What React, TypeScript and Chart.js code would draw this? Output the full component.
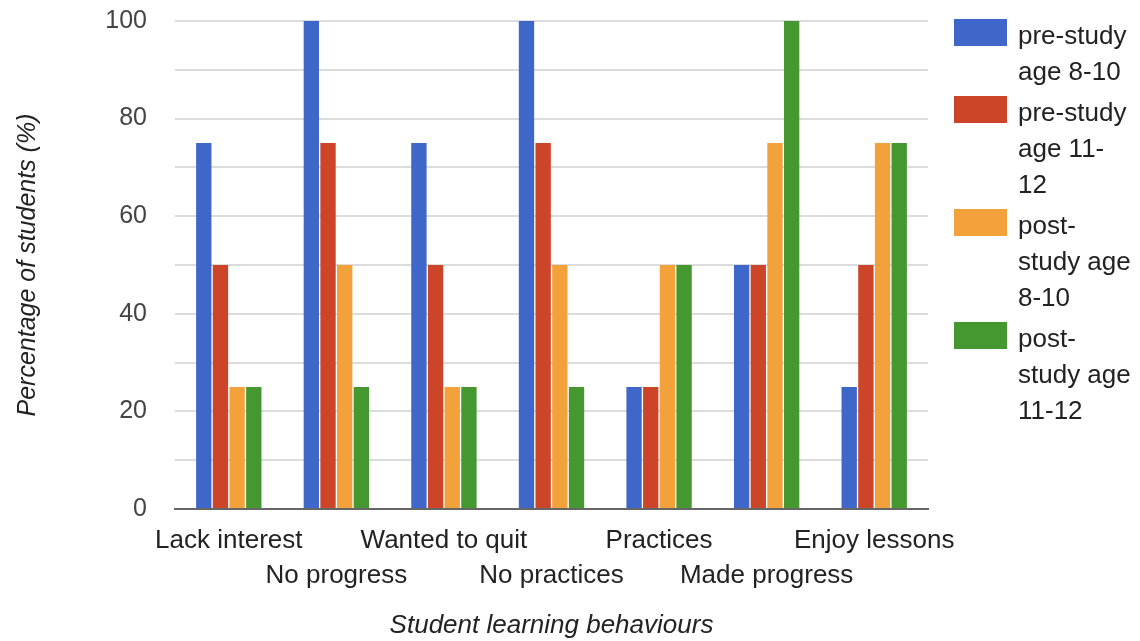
import React, { useEffect, useRef } from "react";
import { Chart, registerables } from "chart.js";

Chart.register(...registerables);

const categories = [
  "Lack interest",
  "No progress",
  "Wanted to quit",
  "No practices",
  "Practices",
  "Made progress",
  "Enjoy lessons",
];

const seriesNames = [
  "pre-study age 8-10",
  "pre-study age 11-12",
  "post-study age 8-10",
  "post-study age 11-12",
];

const legendLines = [
  ["pre-study", "age 8-10"],
  ["pre-study", "age 11-", "12"],
  ["post-", "study age", "8-10"],
  ["post-", "study age", "11-12"],
];

const preStudy8to10 = [75, 100, 75, 100, 25, 50, 25];
const preStudy11to12 = [50, 75, 50, 75, 25, 50, 50];
const postStudy8to10 = [25, 50, 25, 50, 50, 75, 75];
const postStudy11to12 = [25, 25, 25, 25, 50, 100, 75];

const colors = ["#3f66c9", "#cc4529", "#f3a23b", "#45982f"];

const yTitle = "Percentage of students (%)";
const xTitle = "Student learning behaviours";

const FONT = "'Liberation Sans', Arial, sans-serif";

const legendPlugin = {
  id: "sideLegend",
  afterDraw(chart: any) {
    const ctx = chart.ctx;
    ctx.save();
    ctx.font = `26px ${FONT}`;
    ctx.textBaseline = "middle";
    ctx.textAlign = "left";
    const lineH = 36;
    const gap = 5;
    let y = 35;
    chart.data.datasets.forEach((ds: any, i: number) => {
      const lines = legendLines[i];
      ctx.fillStyle = ds.backgroundColor;
      ctx.fillRect(954, y - 16, 53, 27);
      ctx.fillStyle = "#222";
      lines.forEach((ln: string, j: number) => {
        ctx.fillText(ln, 1018, y + 2 + j * lineH);
      });
      y += lines.length * lineH + gap;
    });
    ctx.restore();
  },
};

export default function App() {
  const ref = useRef<HTMLCanvasElement>(null);
  useEffect(() => {
    document.body.style.margin = "0";
    const seriesData = [preStudy8to10, preStudy11to12, postStudy8to10, postStudy11to12];
    const chart = new Chart(ref.current!, {
      type: "bar",
      data: {
        labels: categories,
        datasets: seriesNames.map((name, i) => ({
          label: name,
          data: seriesData[i],
          backgroundColor: colors[i],
          borderWidth: 0,
          categoryPercentage: 0.62,
          barPercentage: 0.92,
        })),
      },
      options: {
        animation: false,
        responsive: false,
        maintainAspectRatio: false,
        layout: { padding: { top: 21, right: 212, bottom: 0, left: 0 } },
        plugins: {
          legend: { display: false },
          tooltip: { enabled: false },
        },
        scales: {
          x: {
            grid: { display: false, drawTicks: false },
            border: { display: true, color: "#666", width: 2 },
            ticks: {
              autoSkip: false,
              maxRotation: 0,
              padding: 14,
              color: "#222",
              font: { family: FONT, size: 26, lineHeight: 1.35 },
              callback: (_v: any, i: number) =>
                i % 2 === 0 ? categories[i] : ["", categories[i]],
            },
            title: {
              display: true,
              text: xTitle,
              color: "#222",
              font: { family: FONT, size: 26, style: "italic", lineHeight: 1.2 },
              padding: { top: 0, bottom: 0 },
            },
            afterFit: (s: any) => {
              s.height = 132;
            },
          },
          y: {
            min: 0,
            max: 100,
            grid: {
              drawTicks: false,
              color: (c: any) => (c.tick && c.tick.value === 0 ? "rgba(0,0,0,0)" : "#dcdcdc"),
              lineWidth: 2,
            },
            border: { display: false },
            ticks: {
              stepSize: 10,
              padding: 28,
              color: "#444",
              font: { family: FONT, size: 25 },
              callback: (v: any) => (Number(v) % 20 === 0 ? String(v) : ""),
            },
            title: {
              display: true,
              text: yTitle,
              color: "#222",
              font: { family: FONT, size: 25, style: "italic", lineHeight: 1.2 },
              padding: { top: 13, bottom: 0 },
            },
            afterFit: (s: any) => {
              s.width = 175;
              s.paddingTop = 0;
              s.paddingBottom = 0;
            },
          },
        },
      },
      plugins: [legendPlugin],
    });
    return () => chart.destroy();
  }, []);
  return (
    <div style={{ width: 1140, height: 641 }}>
      <canvas ref={ref} width={1140} height={641} style={{ display: "block" }} />
    </div>
  );
}
